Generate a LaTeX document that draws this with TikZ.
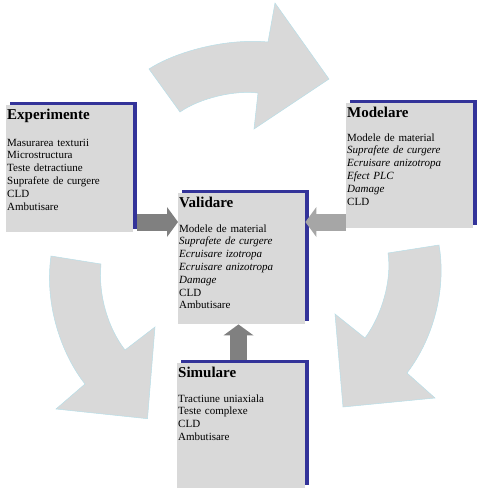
\documentclass[tikz,border=0pt]{standalone}
\usepackage{fontspec}
\setmainfont{Liberation Serif}
\usetikzlibrary{arrows.meta,shadows,calc}
\definecolor{boxblue}{HTML}{333399}
\definecolor{boxgray}{HTML}{D9D9D9}
\definecolor{darkarr}{HTML}{808080}
\definecolor{lightarr}{HTML}{A6A6A6}
\definecolor{cycfill}{HTML}{D9D9D9}
\definecolor{cycline}{HTML}{B7DEE8}
\begin{document}
\begin{tikzpicture}[x=1pt,y=-1pt,
  panel/.style={fill=boxgray, draw=none, anchor=north west, inner sep=0pt,
    copy shadow={shadow xshift=3.5pt, shadow yshift=3.5pt, fill=boxblue, draw=none}},
  ttl/.style={anchor=base west, inner sep=0pt, font=\fontsize{15}{18}\selectfont\bfseries},
  bodytext/.style={anchor=base west, inner sep=0pt, text width=125pt, align=left,
    font=\fontsize{11}{12.8}\selectfont},
  cyc/.style={fill=cycfill, draw=cycline, line width=0.5pt, line join=miter},
  blk/.style={line width=17pt, -{Triangle[length=11pt,width=30pt,line width=0pt]}}]
\useasboundingbox (0,0) rectangle (479,491);

% cycle arrows
\draw[cyc] (149,69) .. controls (175,52) and (225,38) .. (268,42) -- (275,3) -- (329,79)
  -- (254,129) -- (258,93) .. controls (235,90) and (200,98) .. (180,112) -- cycle;
\draw[cyc] (439,245) .. controls (446,285) and (436,335) .. (407,373) -- (435,398) -- (343,407)
  -- (335,314) -- (365,338) .. controls (382,315) and (392,280) .. (388,253) -- cycle;
\draw[cyc] (51,256) -- (101,264) .. controls (98,295) and (108,328) .. (125,350) -- (155,327)
  -- (147.5,418.7) -- (56,409) -- (85,384) .. controls (62,355) and (44,305) .. cycle;

% panels
\node[panel, minimum width=127pt, minimum height=127pt] (exp) at (6,105) {};
\node[panel, minimum width=127pt, minimum height=125pt] (mod) at (346,103) {};
\node[panel, minimum width=127pt, minimum height=131pt] (val) at (178,193) {};
\node[panel, minimum width=128pt, minimum height=125pt] (sim) at (177,363) {};

% texts
\node[ttl] (expT) at (7,119) {Experimente};
\node[bodytext] (expB) at (7,146) {Masurarea texturii\\Microstructura\\Teste detractiune\\Suprafete de curgere\\CLD\\Ambutisare};
\node[ttl] (modT) at (347,117) {Modelare};
\node[bodytext] (modB) at (347,141) {Modele de material\\\textit{Suprafete de curgere}\\\textit{Ecruisare anizotropa}\\\textit{Efect PLC}\\\textit{Damage}\\CLD};
\node[ttl] (valT) at (179,207) {Validare};
\node[bodytext] (valB) at (179,232) {Modele de material\\\textit{Suprafete de curgere}\\\textit{Ecruisare izotropa}\\\textit{Ecruisare anizotropa}\\\textit{Damage}\\CLD\\Ambutisare};
\node[ttl] (simT) at (178,377) {Simulare};
\node[bodytext] (simB) at (178,402) {Tractiune uniaxiala\\Teste complexe\\CLD\\Ambutisare};

% block arrows
\coordinate (ay) at (0,222);
\coordinate (ax) at (238.5,0);
\draw[blk, darkarr] ([xshift=3.5pt]exp.east |- ay) -- (val.west |- ay);
\draw[blk, lightarr] (mod.west |- ay) -- (val.east |- ay);
\draw[blk, darkarr] ([yshift=3.5pt]sim.north -| ax) -- (val.south -| ax);
\end{tikzpicture}
\end{document}
